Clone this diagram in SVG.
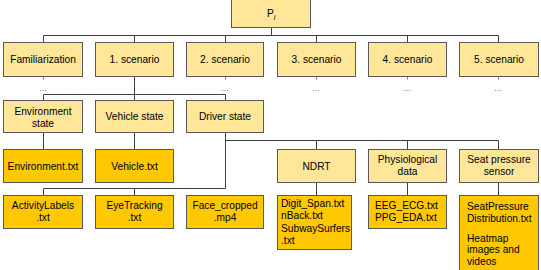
<svg xmlns="http://www.w3.org/2000/svg" width="541" height="270" viewBox="0 0 541 270">
<style>
.l{fill:#FFE699;stroke:#595959;stroke-width:1}
.d{fill:#FFC800;stroke:#595959;stroke-width:1}
text{font-family:"Liberation Sans",Arial,sans-serif;font-size:10.2px;fill:#000}
.c{text-anchor:middle}
.cn{fill:none;stroke:#404040;stroke-width:1}
.tk{fill:none;stroke:#7f7f7f;stroke-width:1}
.dots{fill:#7f7f7f;font-size:9px;text-anchor:middle}
</style>
<rect width="541" height="270" fill="#fff"/>
<g id="connectors">
<path class="cn" d="M271.5 27.5V35.5M43.5 35.5H498.5M43.5 35.5V42.5M134.5 35.5V42.5M225.5 35.5V42.5M316.5 35.5V42.5M407.5 35.5V42.5M498.5 35.5V42.5"/>
<path class="tk" d="M43.5 76.5V79.5M225.5 76.5V79.5M316.5 76.5V79.5M407.5 76.5V79.5M498.5 76.5V79.5"/>
<path class="cn" d="M134.5 76.5V94.5M43.5 94.5H225.5M43.5 94.5V100.5M134.5 94.5V100.5M225.5 94.5V100.5"/>
<path class="cn" d="M43.5 132.5V149.5M134.5 132.5V149.5"/>
<path class="cn" d="M225.5 132.5V188.5M225.5 140.5H498.5M316.5 140.5V149.5M407.5 140.5V149.5M498.5 140.5V149.5"/>
<path class="cn" d="M43.5 188.5H225.5M43.5 188.5V195.5M134.5 188.5V195.5"/>
<path class="cn" d="M316.5 182.5V195.5M407.5 182.5V195.5M498.5 182.5V195.5"/>
</g>
<g id="dots">
<text class="dots" x="43" y="91">...</text>
<text class="dots" x="225" y="91">...</text>
<text class="dots" x="316" y="91">...</text>
<text class="dots" x="407" y="91">...</text>
<text class="dots" x="498" y="91">...</text>
</g>
<g id="n-root"><rect class="l" x="231.5" y="-1" width="79" height="28.5"/><text x="267" y="17">P<tspan font-style="italic" font-size="7.5px" dy="2.5">i</tspan></text></g>
<g id="n-fam"><rect class="l" x="3.5" y="42.5" width="79" height="34"/><text class="c" x="43" y="63">Familiarization</text></g>
<g id="n-s1"><rect class="l" x="95.5" y="42.5" width="78" height="34"/><text class="c" x="134.5" y="63">1. scenario</text></g>
<g id="n-s2"><rect class="l" x="186.5" y="42.5" width="77" height="34"/><text class="c" x="225" y="63">2. scenario</text></g>
<g id="n-s3"><rect class="l" x="277.5" y="42.5" width="78" height="34"/><text class="c" x="316.5" y="63">3. scenario</text></g>
<g id="n-s4"><rect class="l" x="368.5" y="42.5" width="78" height="34"/><text class="c" x="407.5" y="63">4. scenario</text></g>
<g id="n-s5"><rect class="l" x="459.5" y="42.5" width="79" height="34"/><text class="c" x="499" y="63">5. scenario</text></g>
<g id="n-env"><rect class="l" x="3.5" y="100.5" width="79" height="32"/><text class="c" x="43" y="115">Environment</text><text class="c" x="43" y="127">state</text></g>
<g id="n-veh"><rect class="l" x="95.5" y="100.5" width="78" height="32"/><text class="c" x="134.5" y="120">Vehicle state</text></g>
<g id="n-drv"><rect class="l" x="186.5" y="100.5" width="77" height="32"/><text class="c" x="225" y="120">Driver state</text></g>
<g id="n-envtxt"><rect class="d" x="3.5" y="149.5" width="79" height="33"/><text class="c" x="43" y="169.5">Environment.txt</text></g>
<g id="n-vehtxt"><rect class="d" x="95.5" y="149.5" width="78" height="33"/><text class="c" x="134.5" y="169.5">Vehicle.txt</text></g>
<g id="n-ndrt"><rect class="l" x="277.5" y="149.5" width="78" height="33"/><text class="c" x="316.5" y="169.5">NDRT</text></g>
<g id="n-phys"><rect class="l" x="368.5" y="149.5" width="78" height="33"/><text class="c" x="407.5" y="163">Physiological</text><text class="c" x="407.5" y="175">data</text></g>
<g id="n-seat"><rect class="l" x="459.5" y="149.5" width="79" height="33"/><text class="c" x="499" y="163">Seat pressure</text><text class="c" x="499" y="175">sensor</text></g>
<g id="n-act"><rect class="d" x="3.5" y="195.5" width="79" height="33"/><text class="c" x="43" y="209">ActivityLabels</text><text class="c" x="43" y="221">.txt</text></g>
<g id="n-eye"><rect class="d" x="95.5" y="195.5" width="78" height="33"/><text class="c" x="134.5" y="209">EyeTracking</text><text class="c" x="134.5" y="221">.txt</text></g>
<g id="n-face"><rect class="d" x="186.5" y="195.5" width="77" height="33"/><text class="c" x="225" y="209">Face_cropped</text><text class="c" x="225" y="221">.mp4</text></g>
<g id="n-digit"><rect class="d" x="277.5" y="195.5" width="74" height="54"/><text x="281" y="207">Digit_Span.txt</text><text x="281" y="219.4">nBack.txt</text><text x="281" y="231.8">SubwaySurfers</text><text x="281" y="244.2">.txt</text></g>
<g id="n-eeg"><rect class="d" x="368.5" y="195.5" width="78" height="33"/><text x="375" y="208.5">EEG_ECG.txt</text><text x="375" y="220.5">PPG_EDA.txt</text></g>
<g id="n-seatfiles"><rect class="d" x="459.5" y="195.5" width="79" height="80"/><text x="467" y="209.5">SeatPressure</text><text x="467" y="221.5">Distribution.txt</text><text x="467" y="241.5">Heatmap</text><text x="467" y="253.3">images and</text><text x="467" y="265">videos</text></g>
</svg>
